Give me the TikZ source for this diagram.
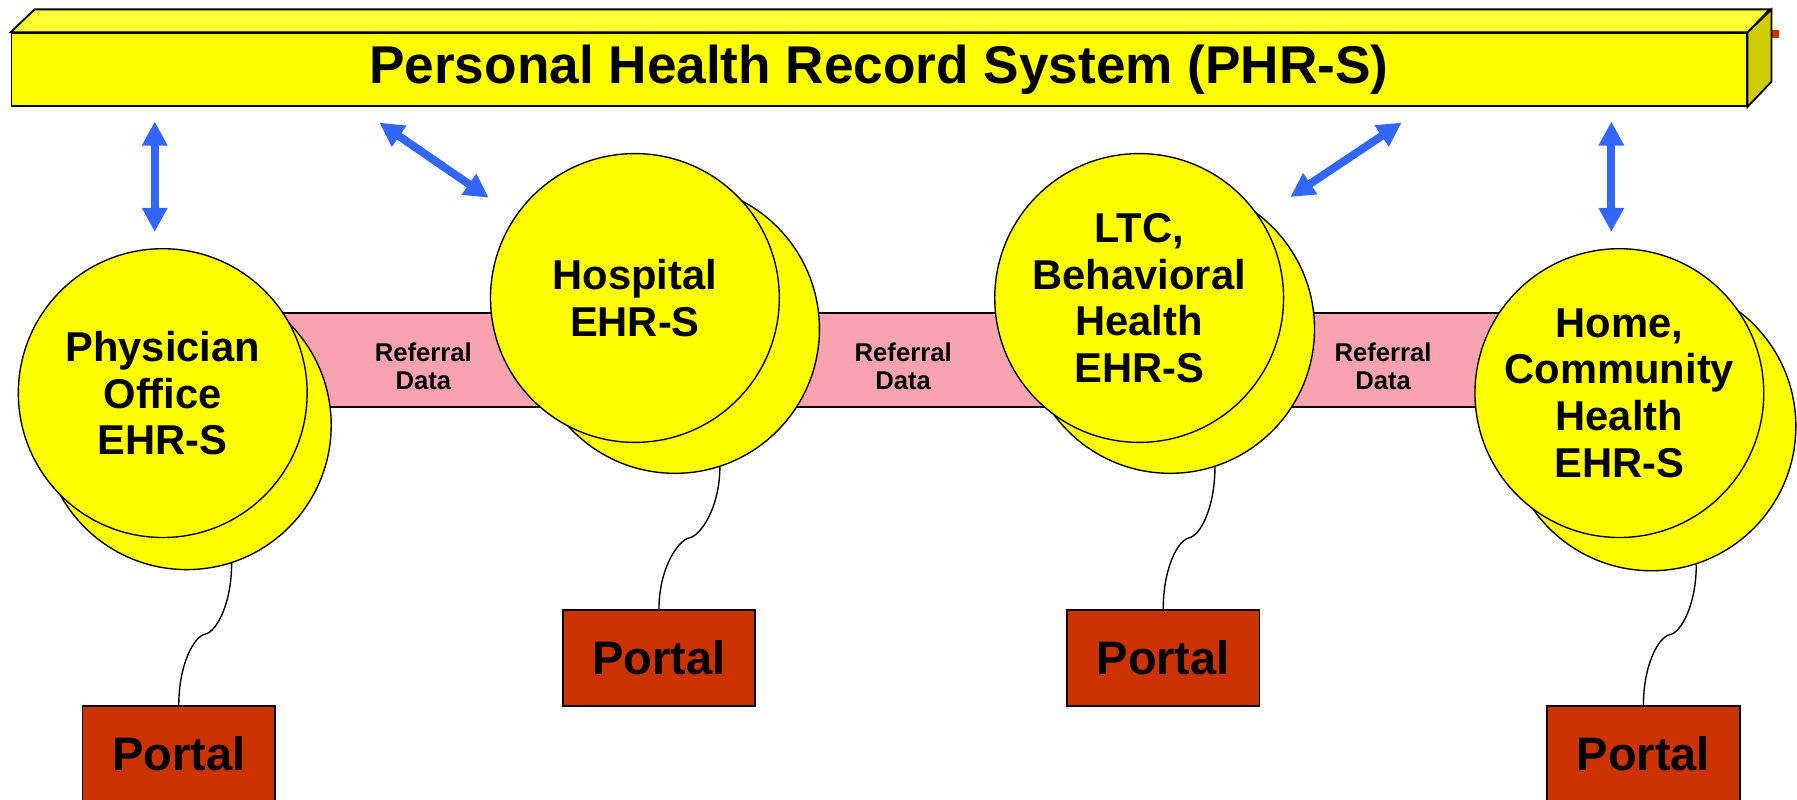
\documentclass[tikz,border=0pt]{standalone}
\usepackage{fontspec}
\setmainfont{Liberation Sans}
\usetikzlibrary{arrows.meta,calc,backgrounds}

\definecolor{phryellow}{HTML}{FFFF00}
\definecolor{phrtop}{HTML}{FFFF33}
\definecolor{phrside}{HTML}{CCCC00}
\definecolor{linkblue}{HTML}{3366FF}
\definecolor{refpink}{HTML}{F9A3B0}
\definecolor{portalred}{HTML}{CC3300}

\tikzset{
  phrbar/.style={shape=rectangle,draw=black,line width=0.8pt,fill=phryellow,minimum width=757pt,minimum height=31.75pt,font=\fontsize{23.2}{28}\selectfont\bfseries},
  ehr/.style={shape=circle,draw=black,line width=0.6pt,fill=phryellow,inner sep=0pt,minimum size=126pt,align=center,font=\fontsize{18.2}{20.35}\selectfont\bfseries},
  ehrback/.style={shape=circle,draw=black,line width=0.6pt,fill=phryellow,inner sep=0pt,minimum size=126pt},
  portal/.style={shape=rectangle,draw=black,line width=0.8pt,fill=portalred,minimum width=84pt,minimum height=42pt,font=\fontsize{20.5}{24}\selectfont\bfseries},
  link/.style={draw=linkblue,line width=3.5pt,{Triangle[width=10.5pt,length=10.5pt]}-{Triangle[width=10.5pt,length=10.5pt]}},
  refbar/.style={draw=black,line width=0.6pt,double=refpink,double distance=40.4pt},
  reflabel/.style={align=center,font=\fontsize{11.2}{12.2}\selectfont\bfseries},
  cord/.style={draw=black,line width=0.6pt}
}

\begin{document}
\begin{tikzpicture}[x=0.5pt,y=-0.5pt]
   \useasboundingbox (0,0) rectangle (1568,698);

   % PHR-S bar
   \fill[portalred] (1546,26) rectangle (1552,33);
   \node[phrbar] (phrs) at (767,60.75) {Personal Health Record System (PHR-S)};
   \draw[fill=phrtop,line width=0.8pt] (phrs.north west) -- ++(21,-20) -- ++(1514,0) -- (phrs.north east) -- cycle;
   \draw[fill=phrside,line width=0.8pt] (phrs.north east) -- ++(21,-20) -- ++(0,63) -- (phrs.south east) -- cycle;

   % EHR systems
   \node[ehrback] (physb) at (163,371) {};
   \node[ehrback] (hospb) at (589,287) {};
   \node[ehrback] (ltcb) at (1021,287) {};
   \node[ehrback] (homeb) at (1441,372) {};

   \node[ehr] (phys) at (142,343) {Physician\\Office\\EHR-S};
   \node[ehr] (hosp) at (554,260) {Hospital\\EHR-S};
   \node[ehr] (ltc) at (994,260) {LTC,\\Behavioral\\Health\\EHR-S};
   \node[ehr] (home) at (1413,343) {Home,\\Community\\Health\\EHR-S};

   % portals
   \node[portal] (physp) at (156,658) {Portal};
   \node[portal] (hospp) at (575,574) {Portal};
   \node[portal] (ltcp) at (1015,574) {Portal};
   \node[portal] (homep) at (1434,658) {Portal};

   \foreach \n in {phys,hosp,ltc,home}
      \draw[cord] (\n b.-72) .. controls +(0,35) and +(10,-2) .. ($(\n b.-72)!0.5!(\n p.north)$)
         .. controls +(-10,2) and +(0,-35) .. (\n p.north);

   % links to the PHR-S
   \coordinate (u1) at (135,106);
   \coordinate (u2) at (331,107);
   \coordinate (u3) at (1223,107);
   \coordinate (u4) at (1406,106);
   \draw[link,shorten >=7pt] (u1) -- (u1 |- phys.north);
   \draw[link,shorten >=14pt] (u2) -- (hosp);
   \draw[link,shorten >=16pt] (u3) -- (ltc);
   \draw[link,shorten >=7pt] (u4) -- (u4 |- home.north);

   % referral data
   \coordinate (refmid) at (0,314);
   \begin{pgfonlayer}{background}
      \draw[refbar] (phys |- refmid) -- (hosp |- refmid) node[reflabel,pos=0.552,yshift=-3pt] {Referral\\Data};
      \draw[refbar] (hosp |- refmid) -- (ltc |- refmid) node[reflabel,pos=0.532,yshift=-3pt] {Referral\\Data};
      \draw[refbar] (ltc |- refmid) -- (home |- refmid) node[reflabel,pos=0.508,yshift=-3pt] {Referral\\Data};
   \end{pgfonlayer}

\end{tikzpicture}
\end{document}
